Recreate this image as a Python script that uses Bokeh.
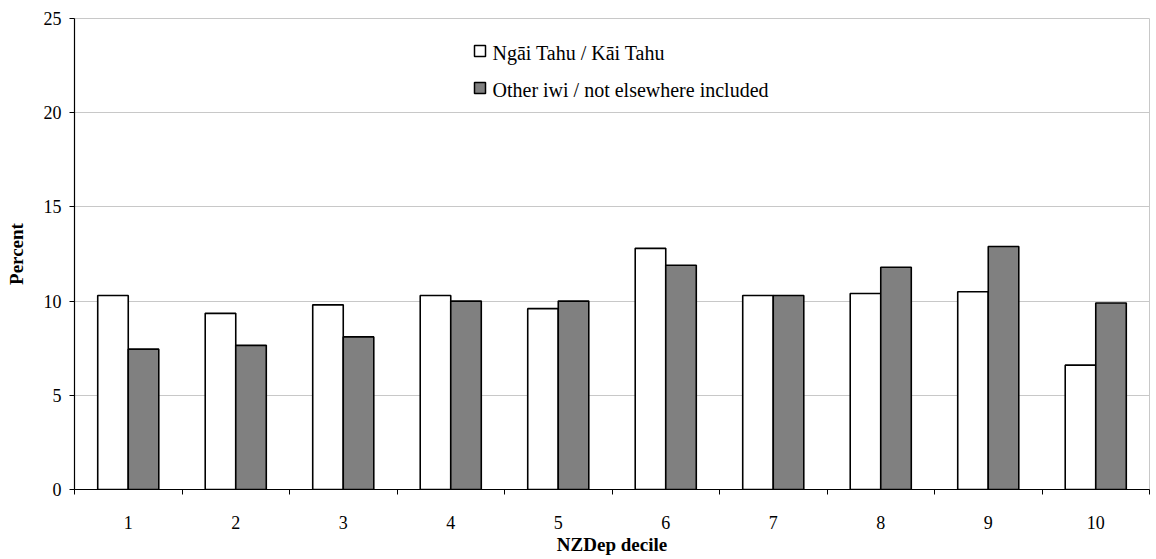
from bokeh.plotting import figure
from bokeh.models import ColumnDataSource, FixedTicker, Range1d, Label, BoxAnnotation
from bokeh.transform import dodge
from bokeh.embed import file_html
from bokeh.resources import INLINE

deciles = [1, 2, 3, 4, 5, 6, 7, 8, 9, 10]
ngai_tahu = [10.3, 9.35, 9.8, 10.3, 9.6, 12.8, 10.3, 10.4, 10.5, 6.6]
other_iwi = [7.45, 7.65, 8.1, 10.0, 10.0, 11.9, 10.3, 11.8, 12.9, 9.9]
series_names = ["Ngāi Tahu / Kāi Tahu", "Other iwi / not elsewhere included"]
series_fills = ["white", "#808080"]
y_ticks = [0, 5, 10, 15, 20, 25]

FONT = "Liberation Serif"

src = ColumnDataSource(dict(decile=deciles, a=ngai_tahu, b=other_iwi))

p = figure(width=1154, height=557, output_backend="svg", toolbar_location=None,
           x_range=Range1d(0.5, 10.5), y_range=Range1d(0, 25),
           min_border_left=74, min_border_right=5, min_border_top=18, min_border_bottom=65)

r1 = p.vbar(x=dodge("decile", -0.142, range=p.x_range), top="a", width=0.284, bottom=0,
            source=src, fill_color=series_fills[0], line_color="black", line_width=1.6)
r2 = p.vbar(x=dodge("decile", 0.142, range=p.x_range), top="b", width=0.284, bottom=0,
            source=src, fill_color=series_fills[1], line_color="black", line_width=1.6)

p.xaxis.ticker = FixedTicker(ticks=deciles, minor_ticks=[d - 0.5 for d in deciles] + [10.5])
p.xaxis.major_tick_out = 0
p.xaxis.major_tick_in = 0
p.xaxis.minor_tick_out = 5
p.xaxis.minor_tick_in = 0
p.xaxis.minor_tick_line_color = "black"
p.xaxis.major_label_standoff = 21
p.xaxis.axis_label = "NZDep decile"
p.xaxis.axis_label_standoff = 2

p.yaxis.ticker = FixedTicker(ticks=y_ticks)
p.yaxis.major_tick_out = 5
p.yaxis.major_tick_in = 0
p.yaxis.minor_tick_line_color = None
p.yaxis.major_label_standoff = 8
p.yaxis.axis_label = "Percent"
p.yaxis.axis_label_standoff = 14

for ax in (p.xaxis[0], p.yaxis[0]):
    ax.axis_line_color = "black"
    ax.axis_line_width = 1.2
    ax.major_tick_line_color = "black"
    ax.major_label_text_font = FONT
    ax.major_label_text_font_size = "18px"
    ax.major_label_text_color = "black"
    ax.axis_label_text_font = FONT
    ax.axis_label_text_font_size = "19px"
    ax.axis_label_text_font_style = "bold"
    ax.axis_label_text_color = "black"

p.xgrid.grid_line_color = None
p.ygrid.ticker = FixedTicker(ticks=y_ticks)
p.ygrid.grid_line_color = "#c8c8c8"
p.ygrid.grid_line_width = 1
p.outline_line_color = "#c8c8c8"
p.outline_line_width = 1

# legend: swatches and texts as screen-unit annotations
LEG_X = 400
LEG_TOPS = [444, 407]
for i, name in enumerate(series_names):
    top = LEG_TOPS[i]
    p.add_layout(Label(x=LEG_X + 18, y=top - 18, x_units="screen", y_units="screen",
                       text=name, text_font="serif", text_font_size="20px",
                       text_color="black"))
for i, fill in enumerate(series_fills):
    top = LEG_TOPS[i]
    p.add_layout(BoxAnnotation(left=LEG_X, right=LEG_X + 11, top=top, bottom=top - 11,
                               left_units="screen", right_units="screen",
                               top_units="screen", bottom_units="screen",
                               fill_color=fill, fill_alpha=1.0,
                               line_color="black", line_width=1.5, line_alpha=1.0))

open("out.html", "w").write(file_html(p, INLINE))
